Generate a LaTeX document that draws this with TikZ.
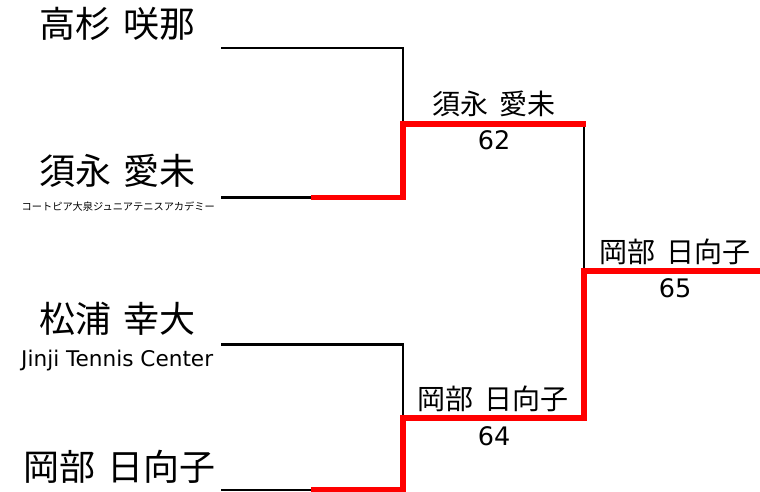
\documentclass[tikz,border=0pt]{standalone}
\usepackage{fontspec}
\setmainfont{DejaVu Sans}
\newfontfamily\jp{Noto Sans CJK JP}
\begin{document}
\begin{tikzpicture}[x=1pt,y=-1pt,
  bk/.style={line width=2.5pt, black},
  rd/.style={line width=5.5pt, red, line join=miter},
  big/.style={font=\jp\fontsize{36}{36}\selectfont, inner sep=0pt, anchor=west},
  mid/.style={font=\jp\fontsize{28}{28}\selectfont, inner sep=0pt},
  num/.style={font=\fontsize{25.5}{25.5}\selectfont, inner sep=0pt},
  club/.style={inner sep=0pt, anchor=west}]
\useasboundingbox (0,0) rectangle (760,491);
% coordinates
\coordinate (p1) at (221,48);   \coordinate (p1e) at (403,48);
\coordinate (p2) at (221,197.5); \coordinate (p2s) at (311,197.5); \coordinate (p2e) at (403,197.5);
\coordinate (p3) at (221,344.5); \coordinate (p3e) at (403,344.5);
\coordinate (p4) at (221,490);  \coordinate (p4s) at (311,490); \coordinate (p4e) at (403,490);
\coordinate (w1) at (403,124);  \coordinate (w1e) at (584,124);
\coordinate (w2) at (403,418);  \coordinate (w2e) at (584,418);
\coordinate (fa) at (584,271);  \coordinate (fe) at (760,271);
% black lines
\draw[bk] (p1) -- (p1e) -- (w1);
\draw[bk] (p2) -- (p2s);
\draw[bk] (p3) -- (p3e) -- (w2);
\draw[bk] (p4) -- (p4s);
\draw[bk] (w1e) -- (fa);
% red lines
\draw[rd] (p2s) -- (p2e) -- (w1) -- ([xshift=1.5pt]w1e);
\draw[rd] (p4s) -- (p4e) -- (w2) -- (w2e) -- (fa) -- (fe);
% names
\node[big] (n1) at (39,24) {高杉\hspace{12pt}咲那};
\node[big] (n2) at (39,171) {須永\hspace{12pt}愛未};
\node[club,font=\jp\fontsize{10.2}{10.2}\selectfont] (c2) at (21.5,207) {コートピア大泉ジュニアテニスアカデミー};
\node[big] (n3) at (39,319) {松浦\hspace{12pt}幸大};
\node[club,font=\fontsize{21.6}{21.6}\selectfont] (c3) at (21,361) {Jinji Tennis Center};
\node[big] (n4) at (23,467) {岡部\hspace{12pt}日向子};
% winners and scores
\node[mid] (m1) at (494,104) {須永\hspace{11pt}愛未};
\node[num] (s1) at (494,140) {62};
\node[mid] (m2) at (493,399) {岡部\hspace{11pt}日向子};
\node[num] (s2) at (494,436) {64};
\node[mid] (m3) at (675,252) {岡部\hspace{11pt}日向子};
\node[num] (s3) at (675,288) {65};
\end{tikzpicture}
\end{document}
